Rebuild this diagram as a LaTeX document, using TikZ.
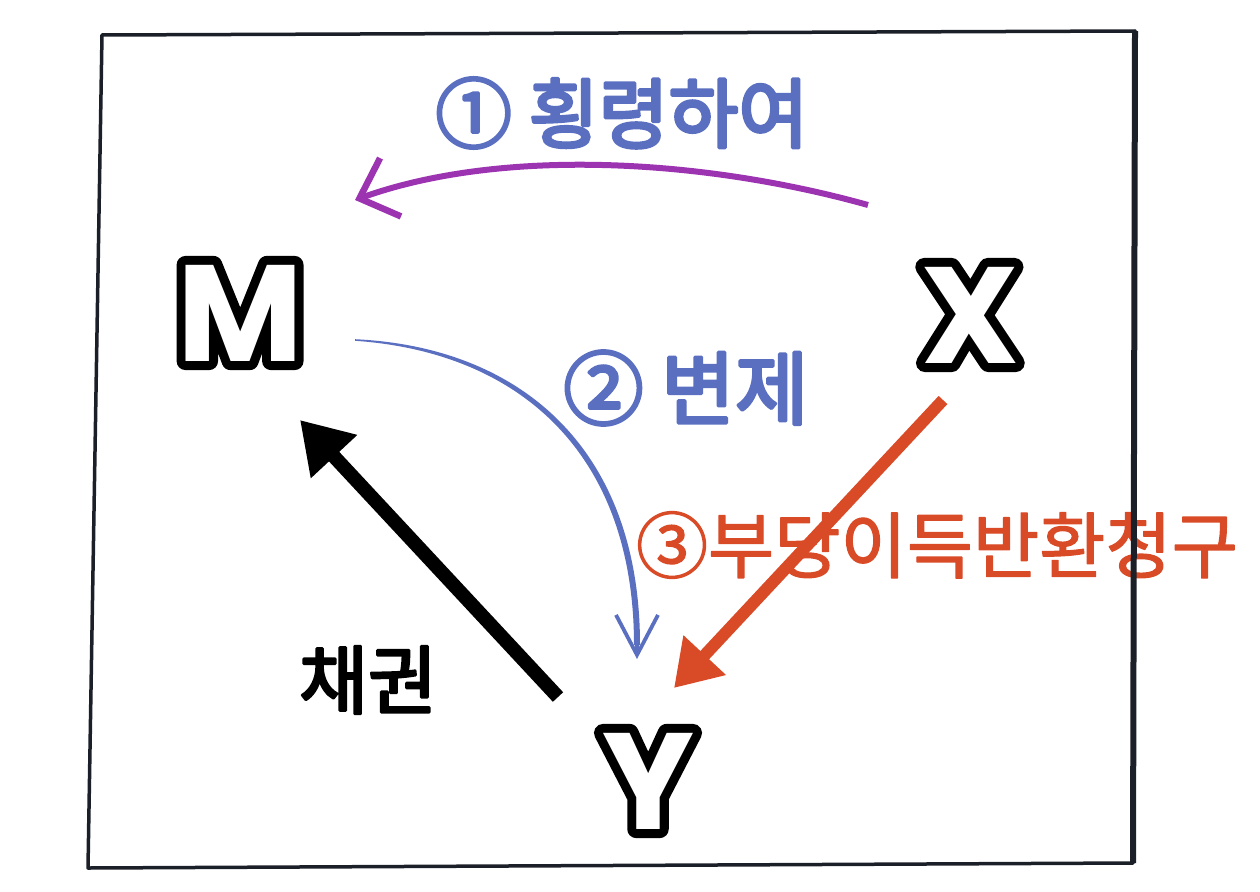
\documentclass[tikz,border=0pt]{standalone}
\usepackage{fontspec}
\usetikzlibrary{arrows.meta}
\newfontfamily\kr{Noto Sans CJK KR}
\newfontfamily\lat{Poppins}
\definecolor{framec}{HTML}{1B1F27}
\definecolor{myblue}{HTML}{5B6FC0}
\definecolor{mypurple}{HTML}{9C33B1}
\definecolor{myred}{HTML}{D94A26}
% text drawn with fill and stroke (render mode 2)
\newcommand\strk[2]{\special{pdf:code 2 Tr #1 w 1 j}#2\special{pdf:code 0 Tr}}
\begin{document}
\begin{tikzpicture}[x=1pt,y=-1pt,
  letter/.style={font=\lat\bfseries\fontsize{137}{137}\selectfont, inner sep=0pt},
  lbl/.style={font=\kr\fontsize{#1}{#1}\selectfont, inner sep=0pt}]
\useasboundingbox (0,0) rectangle (1260,891);
% letters: black stroked underlay, white letter on top
\foreach \n/\x/\y in {M/240/313, X/970/315, Y/648/781} {
  \node[letter,text=black] at (\x,\y) {\strk{18}{\n}};
  \node[letter,text=white] (\n) at (\x,\y) {\n};
}
% arrow end points
\coordinate (p1) at (868,205);
\coordinate (p2) at (355,200);
\coordinate (b1) at (355,340);
\coordinate (b2) at (637,659);
\coordinate (b3) at (637,640);
\coordinate (r1) at (943,400);
\coordinate (r2) at (674,688);
\coordinate (k1) at (558,697);
\coordinate (k2) at (300,420);
\draw[mypurple, line width=6pt, -{Straight Barb[length=33pt,width=62pt,line width=6.5pt]}]
  (p1) .. controls (700,158) and (500,148) .. (p2);
% tapered blue curve
\fill[myblue] (b1) ++(0,-0.8) .. controls (522,347) and (640,450) .. (640,645)
  -- (634,645) .. controls (634,452) and (518,352) .. (355,340.8) -- cycle;
\draw[myblue, line width=4.5pt, -{Straight Barb[length=40pt,width=42pt,line width=3.8pt]}]
  (b3) -- (b2);
\draw[myred, line width=12pt, -{Triangle[length=45pt,width=55pt]}] (r1) -- (r2);
\draw[black, line width=14pt, -{Triangle[length=50pt,width=60pt]}] (k1) -- (k2);
% labels
\node[lbl=76, text=myblue] (t1) at (622,113) {\strk{3.2}{①\ 횡령하여}};
\node[lbl=80, text=myblue] (t2) at (686,388) {\strk{3.2}{② 변제}};
\node[lbl=72, text=myred] (t3) at (937,545) {\strk{1.2}{③부당이득반환청구}};
\node[lbl=75, text=black] (t4) at (368,680) {\strk{2.6}{채권}};
% frame
\draw[framec, line width=3.5pt, line join=round] (102,35) -- (1135,31) -- (1133,863) -- (88,868) -- cycle;
\draw[framec, line width=6pt] (1135,31) -- (1133,863);
\end{tikzpicture}
\end{document}
